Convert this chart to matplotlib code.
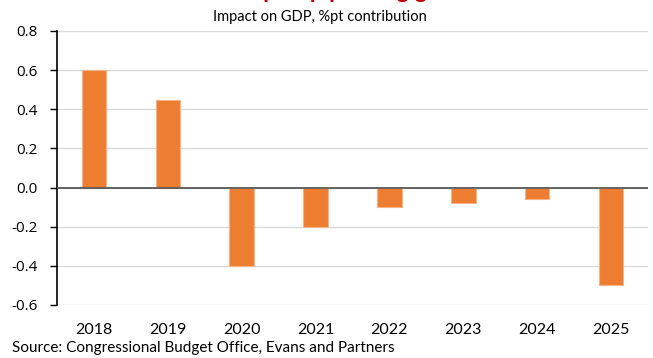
import matplotlib
matplotlib.use("Agg")
import matplotlib.pyplot as plt
import numpy as np

years = ["2018", "2019", "2020", "2021", "2022", "2023", "2024", "2025"]
impact = [0.60, 0.45, -0.40, -0.20, -0.10, -0.08, -0.06, -0.50]
yticks = [-0.6, -0.4, -0.2, 0.0, 0.2, 0.4, 0.6, 0.8]

plt.rcParams['font.family'] = ['Lato', 'DejaVu Sans']

fig = plt.figure(figsize=(6.53, 3.58), dpi=100)
ax = fig.add_axes([57/653, 1-305/358, (648-57)/653, (305-31)/358])

x = np.arange(len(years))
ax.bar(x, impact, width=0.33, color="#ED7D31", edgecolor="#F5B48A", linewidth=0.8, zorder=3)
ax.axhline(0, color="#595959", linewidth=1.3, zorder=4)

ax.set_xlim(-0.5, len(years) - 0.5)
ax.set_ylim(-0.6, 0.8)
ax.set_yticks(yticks)
ax.set_yticklabels([f"{v:.1f}" for v in yticks], fontsize=11, family=['Open Sans', 'DejaVu Sans'])
ax.yaxis.grid(True, color="#D9D9D9", linewidth=1, zorder=0)
ax.set_axisbelow(True)
ax.set_xticks(x)
ax.set_xticklabels(years, fontsize=11.5)
ax.tick_params(axis='x', length=0, pad=13)
ax.tick_params(axis='y', length=5, width=1, color="black", pad=9)
for s in ["top", "right", "bottom"]:
    ax.spines[s].set_visible(False)
ax.spines["left"].set_color("black")
ax.spines["left"].set_linewidth(1.2)

fig.text(0.49, 1-17/358, "Impact on GDP, %pt contribution", ha="center", va="center", fontsize=10.5)
fig.text(0.5, 1+1.5/358, "Tax cuts: pump priming growth", ha="center", va="baseline",
         fontsize=17, fontweight="bold", color="#C00000")
fig.text(12/653, 1-348/358, "Source: Congressional Budget Office, Evans and Partners",
         ha="left", va="center", fontsize=11)

fig.savefig("out.png", dpi=100)
